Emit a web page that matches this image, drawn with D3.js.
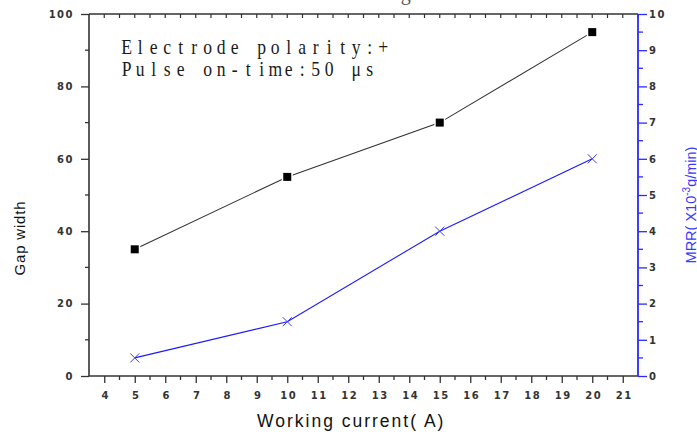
<!DOCTYPE html>
<html>
<head>
<meta charset="utf-8">
<script src="https://cdn.jsdelivr.net/npm/d3@7"></script>
<style>
  body { margin: 0; background: #fff; }
  svg { display: block; }
  .tick-label { font-family: "DejaVu Sans", Arial, sans-serif; font-size: 10px; font-weight: bold; fill: #333; letter-spacing: 1.5px; }
</style>
</head>
<body>
<div id="chart"></div>
<script>
// data
const currents = [5, 10, 15, 20];
const gapWidth = [35, 55, 70, 95];
const mrr = [0.5, 1.5, 4, 6];
const xTicks = d3.range(4, 22);
const yLeftTicks = [0, 20, 40, 60, 80, 100];
const yRightTicks = d3.range(0, 11);
const noteLines = ['Electrode polarity:+', 'Pulse on-time:50μs'];

const W = 697, H = 432;
const M = { left: 89, right: 638, top: 14, bottom: 376 };

const svg = d3.select('#chart').append('svg').attr('width', W).attr('height', H);

const x = d3.scaleLinear().domain([3.5, 21.5]).range([M.left, M.right]);
const yL = d3.scaleLinear().domain([0, 100]).range([M.bottom, M.top]);
const yR = d3.scaleLinear().domain([0, 10]).range([M.bottom, M.top]);

// caption line above the figure, cropped: only its lower edge shows
svg.append('text')
    .attr('x', 87).attr('y', 0)
    .style('font-family', '"Liberation Serif", "Times New Roman", serif')
    .style('font-size', '20px').attr('fill', '#555')
    .text('Relation between MRR and the working current');

const axisColor = '#333';
const blue = '#2a2aff';

// --- bottom axis ---
const bottomAxis = svg.append('g').attr('transform', `translate(0,${M.bottom})`);
bottomAxis.call(d3.axisBottom(x).tickValues(xTicks).tickSize(7).tickSizeOuter(0).tickFormat(d3.format('d')))
    .call(g => g.select('.domain').remove());
bottomAxis.selectAll('.tick line').attr('stroke', axisColor).attr('stroke-width', 1.3);
bottomAxis.selectAll('.tick text').attr('class', 'tick-label').attr('dy', '0.2em').attr('y', 21).attr('dx', 1);
bottomAxis.selectAll('.minor').data(d3.range(4.5, 21.5, 1)).join('line')
    .attr('x1', d => x(d)).attr('x2', d => x(d)).attr('y1', 0).attr('y2', 4)
    .attr('stroke', axisColor).attr('stroke-width', 1.3);
bottomAxis.append('line').attr('x1', M.left).attr('x2', M.right).attr('stroke', axisColor).attr('stroke-width', 1.6);

// --- top frame with inward ticks ---
const topAxis = svg.append('g').attr('transform', `translate(0,${M.top})`);
topAxis.selectAll('line.t').data(d3.range(4, 21.6, 0.5)).join('line')
    .attr('x1', d => x(d)).attr('x2', d => x(d)).attr('y1', 0).attr('y2', 4)
    .attr('stroke', axisColor).attr('stroke-width', 1.2);
topAxis.append('line').attr('x1', M.left).attr('x2', M.right).attr('stroke', axisColor).attr('stroke-width', 1.6);

// --- left axis ---
const leftAxis = svg.append('g').attr('transform', `translate(${M.left},0)`);
leftAxis.call(d3.axisLeft(yL).tickValues(yLeftTicks).tickSize(8).tickSizeOuter(0))
    .call(g => g.select('.domain').remove());
leftAxis.selectAll('.tick line').attr('stroke', axisColor).attr('stroke-width', 1.3);
leftAxis.selectAll('.tick text').attr('class', 'tick-label').attr('x', -15);
leftAxis.selectAll('.minor').data([10, 30, 50, 70, 90]).join('line')
    .attr('x1', -4).attr('x2', 0).attr('y1', d => yL(d)).attr('y2', d => yL(d))
    .attr('stroke', axisColor).attr('stroke-width', 1.3);
leftAxis.append('line').attr('y1', M.top).attr('y2', M.bottom).attr('stroke', axisColor).attr('stroke-width', 1.6);

// --- right axis (blue) ---
const rightAxis = svg.append('g').attr('transform', `translate(${M.right},0)`);
rightAxis.call(d3.axisRight(yR).tickValues(yRightTicks).tickSize(9).tickSizeOuter(0))
    .call(g => g.select('.domain').remove());
rightAxis.selectAll('.tick line').attr('stroke', blue).attr('stroke-width', 1.3);
rightAxis.selectAll('.tick text').attr('class', 'tick-label').attr('x', 11);
rightAxis.selectAll('.minor').data(d3.range(0.5, 10, 1)).join('line')
    .attr('x1', 0).attr('x2', 5).attr('y1', d => yR(d)).attr('y2', d => yR(d))
    .attr('stroke', blue).attr('stroke-width', 1.3);
rightAxis.append('line').attr('y1', M.top).attr('y2', M.bottom).attr('stroke', blue).attr('stroke-width', 1.8);

// --- axis titles ---
svg.append('text')
    .attr('transform', `translate(25,238) rotate(-90)`)
    .attr('text-anchor', 'middle')
    .style('font-family', '"Liberation Sans", Arial, sans-serif').style('font-size', '15px')
    .style('letter-spacing', '0.8px').attr('fill', '#111')
    .text('Gap width');

svg.append('text')
    .attr('x', 257).attr('y', 427)
    .style('font-family', '"Liberation Sans", Arial, sans-serif').style('font-size', '17.5px')
    .style('letter-spacing', '2px').attr('fill', '#111')
    .text('Working current( A)');

// right title sits against the right edge, as in the reference
const rTitle = svg.append('text')
    .attr('transform', `translate(696,205) rotate(-90)`)
    .attr('text-anchor', 'middle')
    .style('font-family', '"Liberation Sans", Arial, sans-serif').style('font-size', '14.5px')
    .attr('fill', '#3a3aff');
rTitle.append('tspan').text('MRR( X10');
rTitle.append('tspan').attr('dy', -6).style('font-size', '10px').text('-3');
rTitle.append('tspan').attr('dy', 6).text('g/min)');

// --- series ---
const gapLine = d3.line().x((d, i) => x(currents[i])).y(d => yL(d));
svg.append('path').datum(gapWidth)
    .attr('d', gapLine).attr('fill', 'none').attr('stroke', '#333').attr('stroke-width', 1.1);
svg.selectAll('rect.gap').data(gapWidth).join('rect')
    .attr('class', 'gap')
    .attr('x', (d, i) => x(currents[i]) - 4).attr('y', d => yL(d) - 4)
    .attr('width', 8).attr('height', 8)
    .attr('fill', '#000').attr('stroke', '#fff').attr('stroke-width', 3).attr('paint-order', 'stroke');

const mrrLine = d3.line().x((d, i) => x(currents[i])).y(d => yR(d));
svg.append('path').datum(mrr)
    .attr('d', mrrLine).attr('fill', 'none').attr('stroke', '#1a1aff').attr('stroke-width', 1.1);
svg.selectAll('path.cross').data(mrr).join('path')
    .attr('class', 'cross')
    .attr('d', (d, i) => {
        const cx = x(currents[i]), cy = yR(d), r = 4.5;
        return `M${cx - r},${cy - r}L${cx + r},${cy + r}M${cx - r},${cy + r}L${cx + r},${cy - r}`;
    })
    .attr('stroke', '#3a3aff').attr('stroke-width', 1).attr('fill', 'none');

// --- note text: fixed-pitch cells (13.5px), serif glyphs, wide char takes two cells ---
const CELL = 13.5, SX = 0.88;
const note = svg.append('g')
    .attr('transform', `translate(120,0) scale(${SX},1)`)
    .style('font-family', '"Liberation Serif", "Times New Roman", serif')
    .style('font-size', '20px').attr('fill', '#1a1a1a');
noteLines.forEach((line, li) => {
    const t = note.append('text').attr('y', 54 + li * 22).attr('text-anchor', 'middle');
    let cell = 0;
    for (const ch of line) {
        const wide = ch.charCodeAt(0) > 255;
        const cx = (cell + (wide ? 1.5 : 0.5)) * CELL / SX;
        t.append('tspan').attr('x', cx).text(ch);
        cell += wide ? 2 : 1;
    }
});
</script>
</body>
</html>
